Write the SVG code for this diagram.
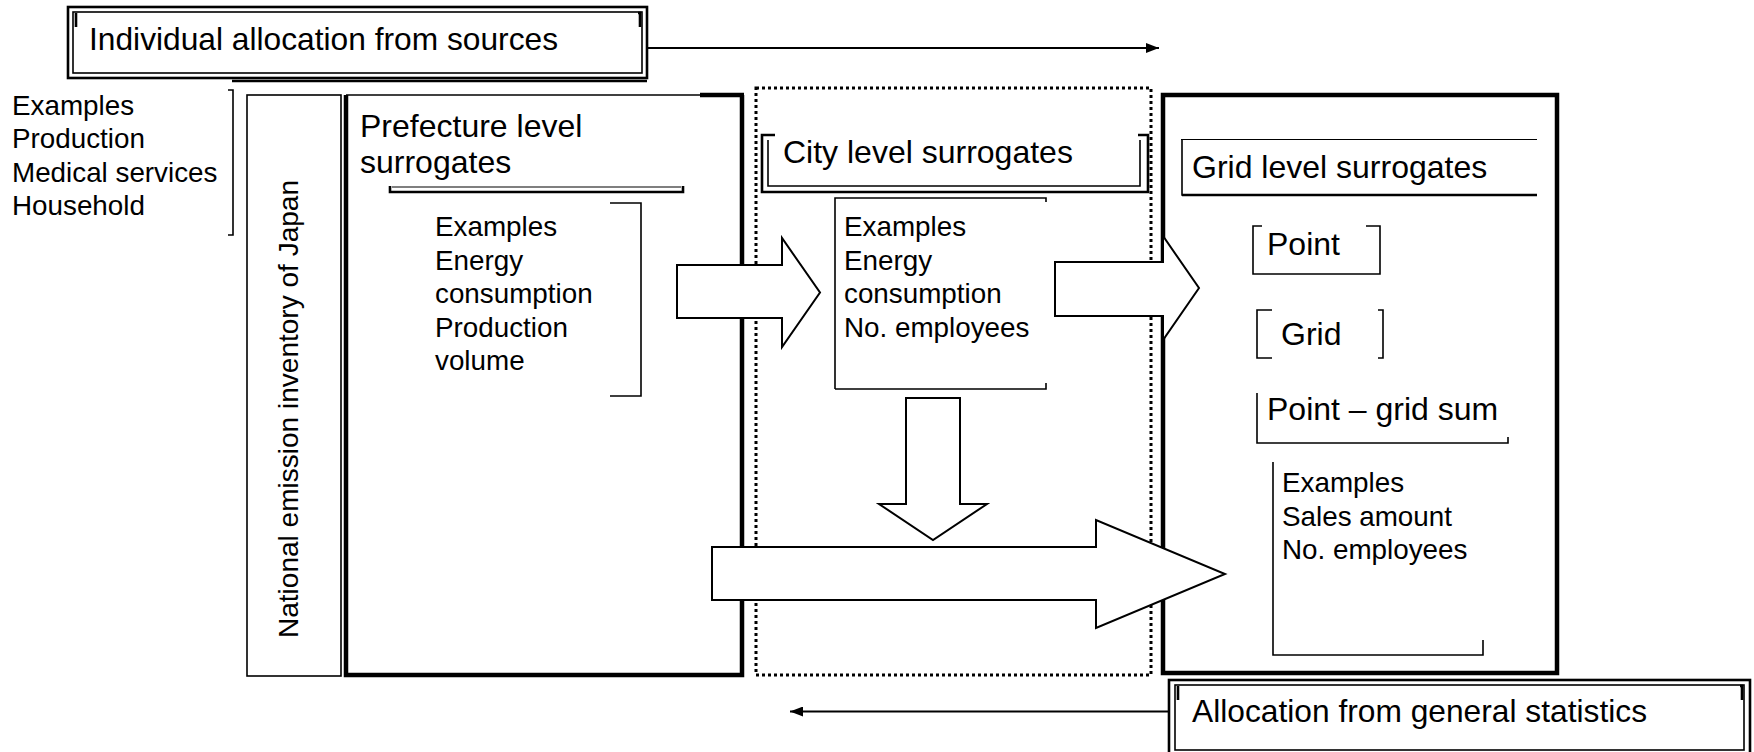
<svg xmlns="http://www.w3.org/2000/svg" width="1754" height="752" viewBox="0 0 1754 752">
<style>
text{font-family:"Liberation Sans",Arial,sans-serif;fill:#000}
.t32{font-size:32px}
.t28{font-size:27.8px}
.ln{fill:none;stroke:#000;stroke-width:1.6}
.th{fill:none;stroke:#000;stroke-width:2.6}
.bk{fill:none;stroke:#000;stroke-width:4.5}
.dot{fill:none;stroke:#000;stroke-width:3;stroke-dasharray:3 3}
.blk{fill:#fff;stroke:#000;stroke-width:2;stroke-linejoin:miter}
</style>
<defs>
<marker id="ah" markerUnits="userSpaceOnUse" markerWidth="13" markerHeight="10" refX="13" refY="5" orient="auto">
<path d="M0,0 L13,5 L0,10 z" fill="#000"/>
</marker>
</defs>
<rect width="1754" height="752" fill="#fff"/>

<g id="individual-allocation">
<rect x="68" y="7" width="579" height="71" class="th"/>
<rect x="73" y="12" width="569" height="61" class="ln"/>
<path d="M76,13 V27 M638,13 H641 M640,13 V27" stroke="#000" stroke-width="2.6" fill="none"/>
<line x1="232" y1="81" x2="647" y2="81" stroke="#000" stroke-width="2.6"/>
<text x="89" y="50" class="t32" textLength="469" lengthAdjust="spacingAndGlyphs">Individual allocation from sources</text>
</g>

<g id="source-examples">
<text class="t28"><tspan x="12" y="115">Examples</tspan><tspan x="12" y="148.3">Production</tspan><tspan x="12" y="181.7">Medical services</tspan><tspan x="12" y="215">Household</tspan></text>
<path d="M228,90 H233 V235 H228" class="ln"/>
</g>

<g id="national-inventory">
<rect x="247" y="95" width="94" height="581" class="ln"/>
<text class="t28" transform="translate(298,638) rotate(-90)" x="0" y="0" textLength="458" lengthAdjust="spacingAndGlyphs">National emission inventory of Japan</text>
</g>

<g id="prefecture">
<path d="M346,95 V675 H742 V95" class="bk"/>
<line x1="346" y1="95" x2="700" y2="95" stroke="#000" stroke-width="1.6"/>
<line x1="700" y1="95" x2="744" y2="95" stroke="#000" stroke-width="4.5"/>
<text class="t32"><tspan x="360" y="137">Prefecture level</tspan><tspan x="360" y="173">surrogates</tspan></text>
<path d="M390,186 V192 H683 V186" class="th"/>
<line x1="392" y1="187" x2="681" y2="187" stroke="#000" stroke-width="1.2"/>
<path d="M610,203 H641 V396 H610" class="ln"/>
<text class="t28"><tspan x="435" y="236">Examples</tspan><tspan x="435" y="269.5">Energy</tspan><tspan x="435" y="303">consumption</tspan><tspan x="435" y="336.5">Production</tspan><tspan x="435" y="370">volume</tspan></text>
</g>

<g id="city">
<rect x="756" y="88" width="395" height="587" class="dot"/>
<path d="M775,135 H762 V192 H1148 V135 H1138" class="th"/>
<path d="M768,140 V186 H1140 V140" class="ln"/>
<text x="783" y="163" class="t32">City level surrogates</text>
<path d="M835,389 V198 H1046 V202 M835,389 H1046 V383" class="ln"/>
<text class="t28"><tspan x="844" y="236">Examples</tspan><tspan x="844" y="269.5">Energy</tspan><tspan x="844" y="303">consumption</tspan><tspan x="844" y="336.5">No. employees</tspan></text>
</g>

<g id="grid">
<rect x="1163" y="95" width="394" height="578" class="bk"/>
<line x1="1181" y1="139.5" x2="1537" y2="139.5" stroke="#000" stroke-width="1"/>
<path d="M1182,139.5 V195 H1537" class="ln"/>
<line x1="1182" y1="195" x2="1537" y2="195" stroke="#000" stroke-width="2.6"/>
<text x="1192" y="178" class="t32">Grid level surrogates</text>
</g>

<g id="grid-point">
<path d="M1262,226 H1253 V274 H1380 V226 H1366" class="ln"/>
<text x="1267" y="255" class="t32">Point</text>
</g>

<g id="grid-grid">
<path d="M1272,310 H1257 V358 H1272" class="ln"/>
<path d="M1378,310 H1383 V358 H1378" class="ln"/>
<text x="1281" y="345" class="t32">Grid</text>
</g>

<g id="grid-sum">
<path d="M1257,393 V443 H1508 V437" class="ln"/>
<text x="1267" y="420" class="t32">Point – grid sum</text>
</g>

<g id="grid-examples">
<path d="M1273,462 V655 H1483 V640" class="ln"/>
<text class="t28"><tspan x="1282" y="492">Examples</tspan><tspan x="1282" y="525.5">Sales amount</tspan><tspan x="1282" y="559">No. employees</tspan></text>
</g>

<g id="general-allocation">
<rect x="1169" y="680" width="581" height="74" class="th"/>
<rect x="1175" y="685" width="569" height="65" class="ln"/>
<path d="M1178,686 V700 M1740,686 H1743 M1742,686 V700" stroke="#000" stroke-width="2.6" fill="none"/>
<text x="1192" y="722" class="t32" textLength="455" lengthAdjust="spacingAndGlyphs">Allocation from general statistics</text>
</g>

<g id="connectors">
<line x1="647" y1="48" x2="1159" y2="48" stroke="#000" stroke-width="2" marker-end="url(#ah)"/>
<line x1="1169" y1="711.5" x2="790" y2="711.5" stroke="#000" stroke-width="2" marker-end="url(#ah)"/>
<polygon class="blk" points="677,265 782,265 782,238 820,292.5 782,347 782,318 677,318"/>
<polygon class="blk" points="1055,262 1163,262 1163,236 1199,288 1163,340 1163,316 1055,316"/>
<polygon class="blk" points="906,398 960,398 960,504 987,504 933,540 879,504 906,504"/>
<polygon class="blk" points="712,547 1096,547 1096,520 1225,574 1096,628 1096,600 712,600"/>
</g>
</svg>
